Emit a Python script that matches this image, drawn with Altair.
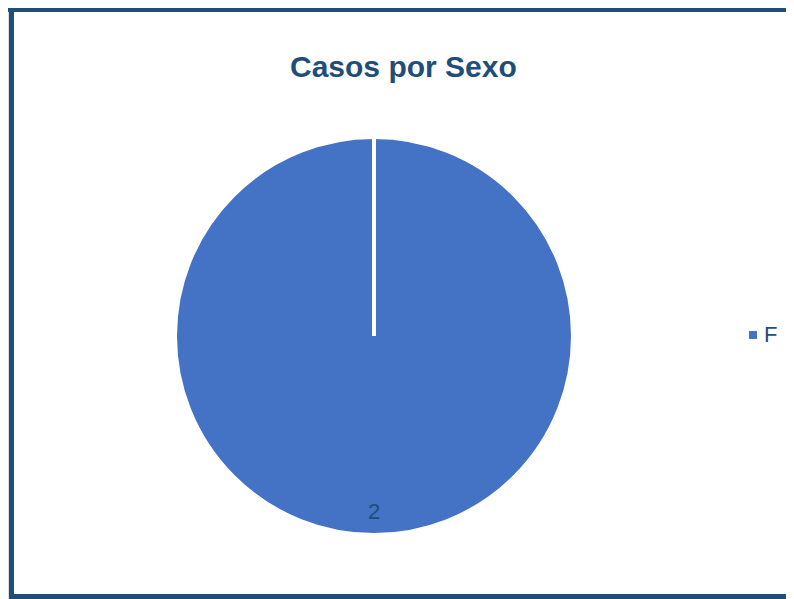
import altair as alt
import pandas as pd

categories = ["F"]
values = [2]

df = pd.DataFrame({"sexo": categories, "casos": values})

W, H = 778, 591
BORDER = "#1F4E79"
CX, CY, R = 366, 328, 199

base = alt.Chart(df)

pie = base.mark_arc(outerRadius=R, stroke="white", strokeWidth=4).encode(
    theta=alt.Theta("casos:Q", stack=True),
    color=alt.Color(
        "sexo:N",
        scale=alt.Scale(domain=categories, range=["#4472C4"]),
        legend=alt.Legend(
            title=None,
            orient="none",
            legendX=734,
            legendY=316,
            symbolType="square",
            symbolSize=64,
            symbolStrokeWidth=0,
            labelFontSize=22,
            labelFont="Liberation Sans",
            labelColor=BORDER,
            labelOffset=0,
        ),
    ),
    x=alt.value(CX),
    y=alt.value(CY),
)

# white edge where the single slice starts and ends (12 o'clock)
edge = base.mark_rule(color="white", strokeWidth=4).encode(
    x=alt.value(CX), y=alt.value(CY - R - 2), y2=alt.value(CY)
)

labels = base.mark_text(
    radius=176, fontSize=22, font="Liberation Sans", color=BORDER, baseline="middle"
).encode(
    theta=alt.Theta("casos:Q", stack=True),
    text="casos:Q",
    x=alt.value(CX),
    y=alt.value(CY),
)

top = base.mark_rule(color=BORDER, strokeWidth=6).encode(
    x=alt.value(0), x2=alt.value(W), y=alt.value(1)
)
left = base.mark_rule(color=BORDER, strokeWidth=5).encode(
    x=alt.value(3.5), y=alt.value(0), y2=alt.value(H)
)
bottom = base.mark_rule(color=BORDER, strokeWidth=5).encode(
    x=alt.value(1), x2=alt.value(W), y=alt.value(588.5)
)

chart = (
    alt.layer(pie, edge, labels, top, left, bottom)
    .properties(
        width=W,
        height=H,
        autosize=alt.AutoSizeParams(type="none"),
        padding=0,
        title=alt.TitleParams(
            "Casos por Sexo",
            font="Liberation Sans",
            fontSize=30,
            fontWeight="bold",
            color=BORDER,
            anchor="start",
            frame="group",
            offset=0,
            baseline="alphabetic",
            dy=101,
            dx=282,
        ),
    )
    .configure_view(stroke=None)
    .configure(background="white")
)

chart.save("out.html", embed_options={"renderer": "svg", "actions": False})
